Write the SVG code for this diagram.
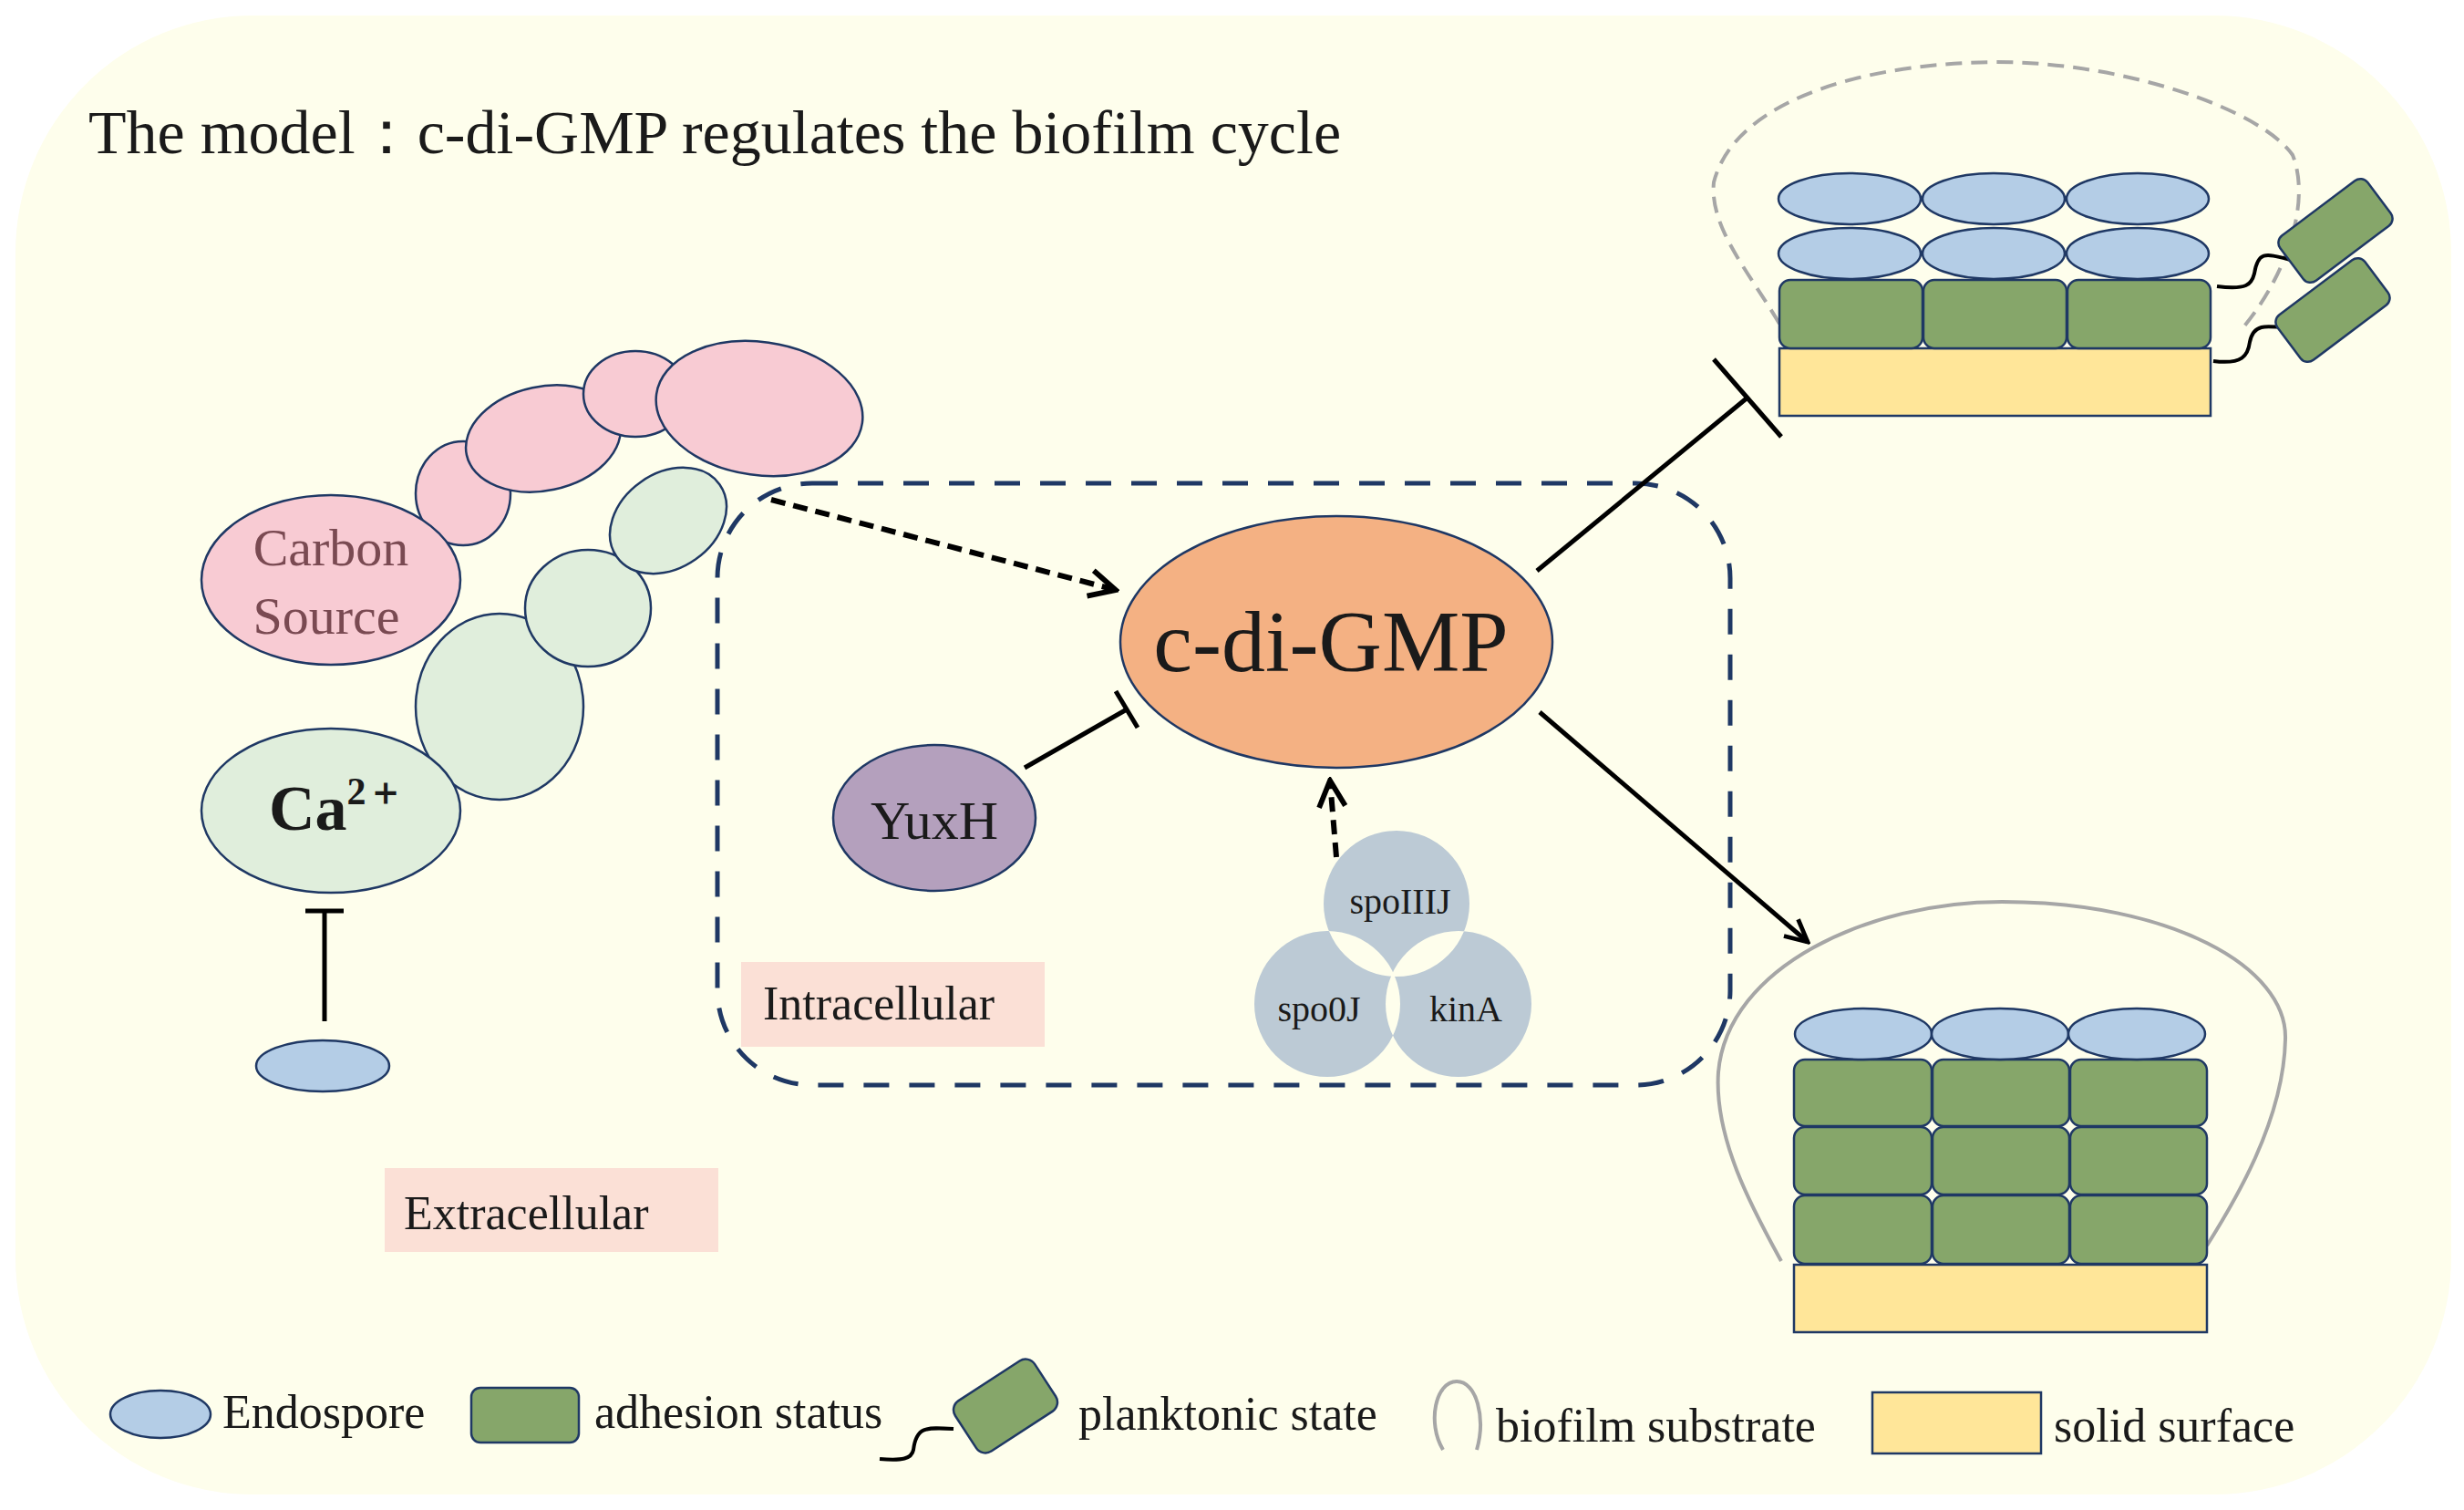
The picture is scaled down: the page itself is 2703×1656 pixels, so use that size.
<svg xmlns="http://www.w3.org/2000/svg" width="2703" height="1656" viewBox="0 0 2703 1656">
<defs>
<style>
text{font-family:"Liberation Serif","Times New Roman","DejaVu Serif",serif;fill:#1a1a1a}
.ol{stroke:#1f3864;stroke-width:2.5}
.pk{fill:#f8cbd3}.lg{fill:#e0eedc}.bl{fill:#b4cde6}.gr{fill:#86a66a}.yl{fill:#ffe699}
.vn{fill:#bccad5}
.ln{stroke:#000;stroke-width:5;fill:none}
.dl{stroke:#000;stroke-width:6;fill:none;stroke-dasharray:16 9}
</style>
<marker id="ah" viewBox="0 0 10 10" refX="9" refY="5" markerWidth="6" markerHeight="6" orient="auto" markerUnits="strokeWidth"><path d="M1,1 L9,5 L1,9" fill="none" stroke="#000" stroke-width="1.6"/></marker>
<clipPath id="cA"><circle cx="1532" cy="991" r="80"/></clipPath>
<clipPath id="cC"><circle cx="1600" cy="1101" r="80"/></clipPath>
</defs>
<rect x="17" y="17" width="2672" height="1622" rx="260" fill="#fefeec"/>
<text x="97" y="168" font-size="68" font-family="Liberation Serif, serif">The model：c-di-GMP regulates the biofilm cycle</text>

<g id="carbon-chain">
<ellipse class="pk ol" cx="508" cy="541" rx="52" ry="57"/>
<ellipse class="pk ol" cx="596" cy="481" rx="86" ry="57" transform="rotate(-12 596 481)"/>
<ellipse class="pk ol" cx="697" cy="432" rx="57" ry="47"/>
<ellipse class="pk ol" cx="833" cy="448" rx="114" ry="73" transform="rotate(8 833 448)"/>
</g>
<g id="carbon-source"><ellipse class="pk ol" cx="363" cy="636" rx="142" ry="93"/>
<text x="363" y="620" font-size="58" text-anchor="middle" style="fill:#7a4a52">Carbon</text>
<text x="358" y="695" font-size="58" text-anchor="middle" style="fill:#7a4a52">Source</text></g>
<g id="ca-chain">
<ellipse class="lg ol" cx="548" cy="775" rx="92" ry="102"/>
<ellipse class="lg ol" cx="645" cy="667" rx="69" ry="64"/>
<ellipse class="lg ol" cx="733" cy="571" rx="69" ry="52" transform="rotate(-35 733 571)"/>
</g>
<g id="ca"><ellipse class="lg ol" cx="363" cy="889" rx="142" ry="90"/>
<text x="295" y="910" font-size="70" font-weight="bold">Ca<tspan font-size="42" dy="-28">2＋</tspan></text></g>
<g id="spore"><ellipse class="bl ol" cx="354" cy="1169" rx="73" ry="28"/></g>
<g id="extracellular"><rect x="422" y="1281" width="366" height="92" fill="#fbe0d6"/>
<text x="443" y="1348" font-size="52">Extracellular</text></g>

<g id="intracellular-region"><rect x="787" y="530" width="1111" height="660" rx="104" fill="none" stroke="#1f3864" stroke-width="5" stroke-dasharray="28 22"/></g>
<g id="intracellular"><rect x="813" y="1055" width="333" height="93" fill="#fbe0d6"/>
<text x="837" y="1118" font-size="52">Intracellular</text></g>
<g id="cdigmp"><ellipse cx="1466" cy="704" rx="237" ry="138" fill="#f4b183" class="ol"/>
<text x="1460" y="736" font-size="96" text-anchor="middle">c-di-GMP</text></g>
<g id="yuxh"><ellipse cx="1025" cy="897" rx="111" ry="80" fill="#b4a0bd" class="ol"/>
<text x="1025" y="920" font-size="60" text-anchor="middle">YuxH</text></g>
<g id="venn">
<circle class="vn" cx="1532" cy="991" r="80"/>
<circle class="vn" cx="1456" cy="1101" r="80"/>
<circle class="vn" cx="1600" cy="1101" r="80"/>
<g fill="#fefeec">
<circle cx="1456" cy="1101" r="80" clip-path="url(#cA)"/>
<circle cx="1600" cy="1101" r="80" clip-path="url(#cA)"/>
<circle cx="1456" cy="1101" r="80" clip-path="url(#cC)"/>
</g>
<text x="1536" y="1002" font-size="40" text-anchor="middle">spoIIIJ</text>
<text x="1447" y="1120" font-size="40" text-anchor="middle">spo0J</text>
<text x="1608" y="1120" font-size="40" text-anchor="middle">kinA</text>
</g>

<g id="biofilm-top">
<path d="M1952,355 C1920,300 1875,250 1880,200 C1900,120 2020,70 2190,68 C2330,68 2480,120 2515,170 C2535,220 2510,300 2460,360" fill="none" stroke="#a6a6a6" stroke-width="4" stroke-dasharray="18 10"/>
<rect class="yl ol" x="1952" y="382" width="473" height="74"/>
<rect class="gr ol" x="1952" y="307" width="157" height="75" rx="12"/>
<rect class="gr ol" x="2110" y="307" width="157" height="75" rx="12"/>
<rect class="gr ol" x="2268" y="307" width="157" height="75" rx="12"/>
<ellipse class="bl ol" cx="2029" cy="278" rx="78" ry="28"/><ellipse class="bl ol" cx="2187" cy="278" rx="78" ry="28"/><ellipse class="bl ol" cx="2345" cy="278" rx="78" ry="28"/>
<ellipse class="bl ol" cx="2029" cy="218" rx="78" ry="28"/><ellipse class="bl ol" cx="2187" cy="218" rx="78" ry="28"/><ellipse class="bl ol" cx="2345" cy="218" rx="78" ry="28"/>
<path d="M2432,314 C2465,318 2470,312 2473,300 C2477,275 2485,278 2513,285" fill="none" stroke="#000" stroke-width="4"/>
<path d="M2428,396 C2460,400 2466,390 2468,375 C2472,355 2485,357 2511,360" fill="none" stroke="#000" stroke-width="4"/>
<rect class="gr ol" x="2502" y="222" width="120" height="62" rx="10" transform="rotate(-37 2562 253)"/>
<rect class="gr ol" x="2499" y="309" width="120" height="62" rx="10" transform="rotate(-37 2559 340)"/>
</g>
<g id="biofilm-bottom">
<path d="M1954,1383 C1925,1330 1880,1250 1885,1176 C1895,1060 2050,989 2196,989 C2380,989 2510,1060 2507,1140 C2505,1230 2450,1320 2421,1366" fill="none" stroke="#a6a6a6" stroke-width="4"/>
<rect class="yl ol" x="1968" y="1387" width="453" height="74"/>
<g class="gr ol">
<rect x="1968" y="1162" width="151" height="73" rx="12"/><rect x="2120" y="1162" width="150" height="73" rx="12"/><rect x="2271" y="1162" width="150" height="73" rx="12"/>
<rect x="1968" y="1236" width="151" height="74" rx="12"/><rect x="2120" y="1236" width="150" height="74" rx="12"/><rect x="2271" y="1236" width="150" height="74" rx="12"/>
<rect x="1968" y="1311" width="151" height="75" rx="12"/><rect x="2120" y="1311" width="150" height="75" rx="12"/><rect x="2271" y="1311" width="150" height="75" rx="12"/>
</g>
<ellipse class="bl ol" cx="2044" cy="1134" rx="75" ry="28"/><ellipse class="bl ol" cx="2194" cy="1134" rx="75" ry="28"/><ellipse class="bl ol" cx="2344" cy="1134" rx="75" ry="28"/>
</g>

<g id="connectors">
<line class="ln" x1="356" y1="1120" x2="356" y2="999"/><line class="ln" x1="335" y1="999" x2="377" y2="999"/>
<line class="dl" x1="846" y1="548" x2="1224" y2="647" marker-end="url(#ah)"/>
<line class="dl" x1="1466" y1="940" x2="1459" y2="856" marker-end="url(#ah)"/>
<line class="ln" x1="1124" y1="842" x2="1236" y2="778"/><line class="ln" x1="1224" y1="758" x2="1248" y2="798"/>
<line class="ln" x1="1686" y1="626" x2="1917" y2="436"/><line class="ln" x1="1880" y1="394" x2="1954" y2="479"/>
<line class="ln" x1="1689" y1="781" x2="1983" y2="1033" marker-end="url(#ah)"/>
</g>

<g id="legend">
<ellipse class="bl ol" cx="176" cy="1551" rx="55" ry="26"/>
<text x="244" y="1566" font-size="52">Endospore</text>
<rect class="gr ol" x="517" y="1522" width="118" height="60" rx="10"/>
<text x="652" y="1566" font-size="52">adhesion status</text>
<path d="M965,1600 C990,1602 1000,1600 1002,1590 C1005,1565 1015,1565 1046,1567" fill="none" stroke="#000" stroke-width="4"/>
<rect class="gr ol" x="1051" y="1509" width="104" height="66" rx="12" transform="rotate(-33 1103 1542)"/>
<text x="1183" y="1568" font-size="52">planktonic state</text>
<path d="M1583,1590 C1565,1560 1575,1515 1598,1515 C1620,1515 1630,1555 1620,1590" fill="none" stroke="#a6a6a6" stroke-width="4"/>
<text x="1641" y="1581" font-size="52">biofilm substrate</text>
<rect class="yl ol" x="2054" y="1527" width="185" height="67"/>
<text x="2253" y="1581" font-size="52">solid surface</text>
</g>
</svg>
